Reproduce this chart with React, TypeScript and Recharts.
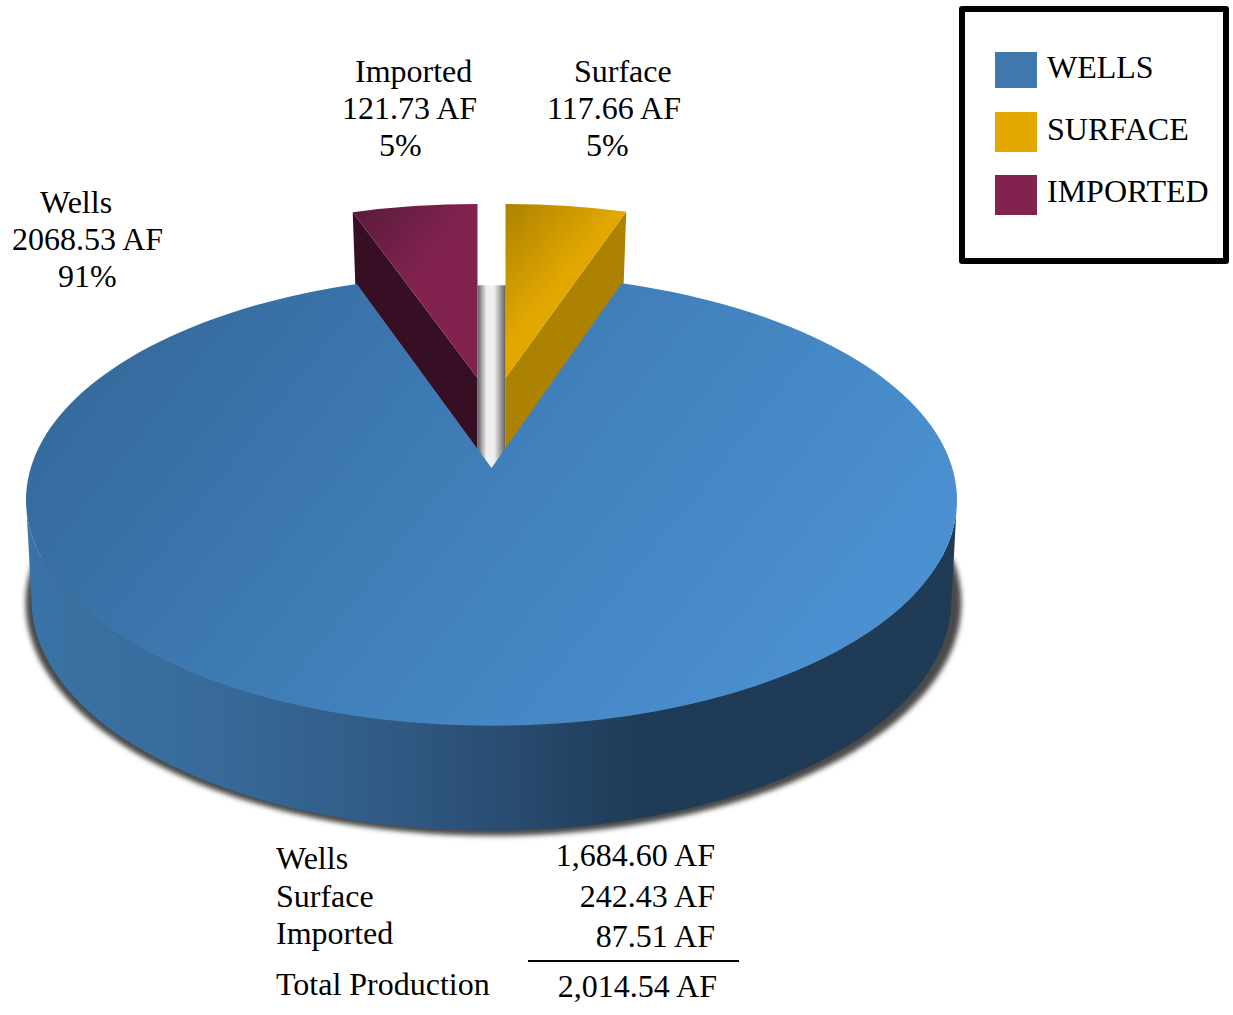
import React from 'react'
import { PieChart, Pie, Legend } from 'recharts'

// slices, in drawing order: Wells goes last so it covers the feet of the pulled-out wedges
const sliceNames = ['Imported', 'Surface', 'Wells']
const sliceValues = [121.73, 117.66, 2068.53]
const slicePercents = ['5%', '5%', '91%']

const legendNames = ['WELLS', 'SURFACE', 'IMPORTED']

const tableNames = ['Wells', 'Surface', 'Imported', 'Total Production']
const tableValues = ['1,684.60 AF', '242.43 AF', '87.51 AF', '2,014.54 AF']

const FONT = '"Liberation Serif", "Times New Roman", serif'
const FONT_SIZE = 32

const legendColors: Record<string, string> = {
  WELLS: '#3e78ad',
  SURFACE: '#e3a800',
  IMPORTED: '#82234f',
}
const legendSwatchTop = [40, 100, 163]
const legendSwatchHeight = [36, 40, 40]
const legendTextTop = [39, 101, 163]

// first-line x for each label line, and the baseline of the first line
const labelLayout: Record<string, { xs: number[]; y: number }> = {
  Imported: { xs: [355, 342, 379], y: 82 },
  Surface: { xs: [574, 547, 586], y: 82 },
  Wells: { xs: [40, 12, 58], y: 213 },
}

const tableLeftY = [869, 907, 944, 995]
const tableRightY = [866, 907, 947, 997]
const tableRightX = [715, 715, 715, 717]

const chartData = sliceNames.map((name, i) => ({
  name,
  value: sliceValues[i],
  percentLabel: slicePercents[i],
}))

const total = sliceValues.reduce((a, b) => a + b, 0)
const startAngle = 90 + (sliceValues[0] / total) * 360

const rad = (d: number) => (d * Math.PI) / 180
const Y_SCALE = 226 / 466
const NOTCH_PERSPECTIVE = 0.885

const WellsSlice = (props: any) => {
  const { cx, cy, outerRadius: r, startAngle: a0, endAngle: a1 } = props
  const ry = r * Y_SCALE
  // the cut narrows towards the back of the disc
  const pull = (a: number) => {
    const norm = a < -90 ? a + 360 : a
    return 90 + (norm - 90) * NOTCH_PERSPECTIVE
  }
  const p0 = pull(a0)
  const p1 = pull(a1)
  const x0 = cx + r * Math.cos(rad(p0))
  const y0 = cy - ry * Math.sin(rad(p0))
  const x1 = cx + r * Math.cos(rad(p1))
  const y1 = cy - ry * Math.sin(rad(p1))
  const apexY = cy - 32

  const bottomCy = cy + 100
  const bottomRx = r - 5.5
  const bottomRy = ry + 5

  return (
    <g>
      <defs>
        <linearGradient id="wellsTop" gradientUnits="userSpaceOnUse" x1={cx - 370} y1={cy - 230} x2={cx + 250} y2={cy + 260}>
          <stop offset="0" stopColor="#34689a" />
          <stop offset="0.55" stopColor="#4180bb" />
          <stop offset="1" stopColor="#4b90d1" />
        </linearGradient>
        <linearGradient id="wellsSide" gradientUnits="userSpaceOnUse" x1={cx - r} y1={0} x2={cx + r} y2={0}>
          <stop offset="0" stopColor="#3b73a6" />
          <stop offset="0.2" stopColor="#376a9a" />
          <stop offset="0.38" stopColor="#315b86" />
          <stop offset="0.5" stopColor="#2a4e74" />
          <stop offset="0.66" stopColor="#1f3b56" />
          <stop offset="1" stopColor="#1f3b56" />
        </linearGradient>
        <linearGradient id="notch" x1="0" y1="0" x2="1" y2="0">
          <stop offset="0" stopColor="#5f5f5f" />
          <stop offset="0.32" stopColor="#efefef" />
          <stop offset="0.6" stopColor="#efefef" />
          <stop offset="1" stopColor="#5f5f5f" />
        </linearGradient>
        <filter id="blur" x="-5%" y="-10%" width="110%" height="120%">
          <feGaussianBlur stdDeviation="2.5" />
        </filter>
        <clipPath id="shadowClip">
          <rect x={0} y={cy + 58} width={cx * 3} height={r} />
        </clipPath>
      </defs>
      <g filter="url(#blur)">
        <ellipse
          cx={cx + 2}
          cy={bottomCy + 3}
          rx={bottomRx + 8}
          ry={bottomRy + 2}
          fill="#4a4a4a"
          clipPath="url(#shadowClip)"
        />
      </g>
      <path
        d={`M${cx - r},${cy} A${r},${ry} 0 0 0 ${cx + r},${cy} L${cx + bottomRx},${bottomCy} A${bottomRx},${bottomRy} 0 0 1 ${cx - bottomRx},${bottomCy} Z`}
        fill="url(#wellsSide)"
      />
      <rect x={cx - 14} y={y0 + 2} width={28} height={apexY - y0 + 2} fill="url(#notch)" />
      <path
        d={`M${cx},${apexY} L${x0},${y0} A${r},${ry} 0 1 1 ${x1},${y1} Z`}
        fill="url(#wellsTop)"
      />
    </g>
  )
}

const PulledSlice = (props: any) => {
  const { cx, cy, outerRadius: r, startAngle: a0, endAngle: a1, name } = props
  const right = name === 'Surface'
  const ox = cx + (right ? 14 : -14)
  const oy = cy - 146
  const rx = r * 0.824
  const ry = 150
  const apexY = cy - 122
  const x0 = ox + rx * Math.cos(rad(a0))
  const y0 = oy - ry * Math.sin(rad(a0))
  const x1 = ox + rx * Math.cos(rad(a1))
  const y1 = oy - ry * Math.sin(rad(a1))
  const outerX = right ? x1 : x0
  const outerY = right ? y1 : y0
  const id = `face${name}`
  return (
    <g>
      <defs>
        {right ? (
          <linearGradient id={id} gradientUnits="userSpaceOnUse" x1={ox} y1={oy - ry} x2={ox + 72} y2={oy - ry + 60}>
            <stop offset="0" stopColor="#ad8200" />
            <stop offset="1" stopColor="#e3a800" />
          </linearGradient>
        ) : (
          <linearGradient id={id} gradientUnits="userSpaceOnUse" x1={outerX} y1={oy - ry} x2={outerX + 78} y2={oy - ry + 60}>
            <stop offset="0" stopColor="#591a3b" />
            <stop offset="1" stopColor="#82234f" />
          </linearGradient>
        )}
      </defs>
      <path
        d={`M${outerX},${outerY} L${ox},${apexY} L${ox},${apexY + 90} L${outerX + (right ? -4 : 4)},${outerY + 110} Z`}
        fill={right ? '#ad8200' : '#360f25'}
      />
      <path
        d={`M${ox},${apexY} L${x0},${y0} A${rx},${ry} 0 0 1 ${x1},${y1} Z`}
        fill={`url(#${id})`}
      />
    </g>
  )
}

const renderSlice = (props: any) =>
  props.name === 'Wells' ? <WellsSlice {...props} /> : <PulledSlice {...props} />

const renderLabel = (props: any) => {
  const { name, value, percentLabel } = props.payload ?? props
  const layout = labelLayout[name]
  if (!layout) return null
  const lines = [name, `${value.toFixed(2)} AF`, percentLabel]
  return (
    <g>
      {lines.map((line, i) => (
        <text key={i} x={layout.xs[i]} y={layout.y + i * 37} fontFamily={FONT} fontSize={FONT_SIZE} fill="#000">
          {line}
        </text>
      ))}
    </g>
  )
}

const LegendBox = () => (
  <div
    style={{
      boxSizing: 'border-box',
      width: 270,
      height: 258,
      border: '6px solid #000',
      borderRadius: 3,
      background: '#fff',
      position: 'relative',
      fontFamily: FONT,
      fontSize: FONT_SIZE,
      color: '#000',
    }}
  >
    {legendNames.map((name, i) => (
      <React.Fragment key={name}>
        <div
          style={{
            position: 'absolute',
            left: 30,
            top: legendSwatchTop[i],
            width: 42,
            height: legendSwatchHeight[i],
            background: legendColors[name],
          }}
        />
        <div style={{ position: 'absolute', left: 82, top: legendTextTop[i], lineHeight: '32px', whiteSpace: 'nowrap' }}>
          {name}
        </div>
      </React.Fragment>
    ))}
  </div>
)

export default function App() {
  return (
    <div style={{ position: 'absolute', left: 0, top: 0, width: 1233, height: 1015, background: '#fff' }}>
      <PieChart width={1233} height={1015} margin={{ top: 0, right: 0, bottom: 0, left: 0 }}>
        <Legend
          layout="vertical"
          align="right"
          verticalAlign="top"
          content={<LegendBox />}
          wrapperStyle={{ position: 'absolute', left: 959, top: 6, width: 270, height: 258 }}
        />
        <Pie
          data={chartData}
          dataKey="value"
          nameKey="name"
          cx={491.5}
          cy={500}
          outerRadius={465.5}
          startAngle={startAngle}
          endAngle={startAngle - 360}
          stroke="none"
          shape={renderSlice}
          label={renderLabel}
          labelLine={false}
          isAnimationActive={false}
        />
      </PieChart>
      <svg width={1233} height={1015} style={{ position: 'absolute', left: 0, top: 0, pointerEvents: 'none' }}>
        {tableNames.map((name, i) => (
          <text key={name} x={276} y={tableLeftY[i]} fontFamily={FONT} fontSize={FONT_SIZE} fill="#000">
            {name}
          </text>
        ))}
        {tableValues.map((v, i) => (
          <text key={v} x={tableRightX[i]} y={tableRightY[i]} textAnchor="end" fontFamily={FONT} fontSize={FONT_SIZE} fill="#000">
            {v}
          </text>
        ))}
        <line x1={528} x2={739} y1={961} y2={961} stroke="#000" strokeWidth={2} />
      </svg>
    </div>
  )
}
